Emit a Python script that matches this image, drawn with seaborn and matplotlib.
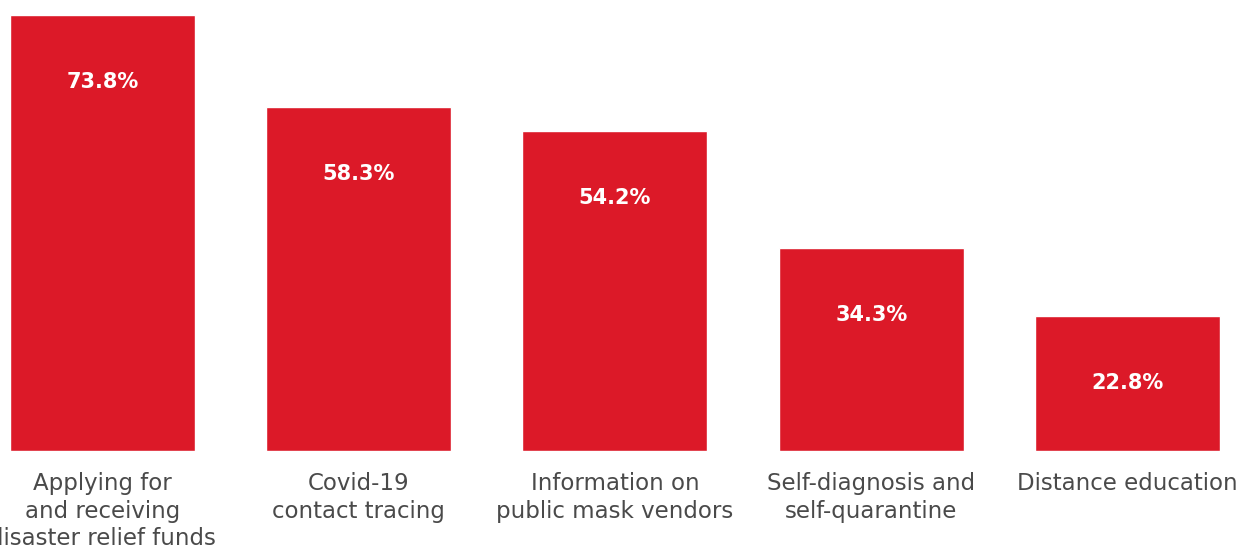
import numpy as np
import pandas as pd
import matplotlib
matplotlib.use("Agg")
import matplotlib.pyplot as plt
import seaborn as sns

# Data
categories = [
    "Applying for\nand receiving\ndisaster relief funds",
    "Covid-19\ncontact tracing",
    "Information on\npublic mask vendors",
    "Self-diagnosis and\nself-quarantine",
    "Distance education",
]
values = [73.8, 58.3, 54.2, 34.3, 22.8]

bar_color = "#DC1928"
text_color = "#4A4A4A"

sns.set_theme(style="white")
plt.rcParams['font.family'] = ['DejaVu Sans']

df = pd.DataFrame({"category": categories, "value": values})

fig = plt.figure(figsize=(12.51, 5.52), dpi=100)
# axes placed so that the baseline and tallest bar match the reference
ax = fig.add_axes([0, 101 / 552, 1, 436 / 552])

sns.barplot(data=df, x="category", y="value", color=bar_color,
            width=0.722, saturation=1, ax=ax)

ax.set_xlim(-0.4, 4.482)
ax.set_ylim(0, 73.8)
ax.set_xlabel("")
ax.set_ylabel("")
ax.set_yticks([])
ax.tick_params(axis="x", length=0, pad=15, labelsize=16.5, labelcolor=text_color)
for lbl in ax.get_xticklabels():
    lbl.set_linespacing(1.26)
sns.despine(ax=ax, left=True, bottom=True)

# value labels inside the bars
for i, v in enumerate(values):
    ax.annotate(f"{v}%", xy=(i, v), xytext=(0, -67 / 100 * 72),
                textcoords="offset points", ha="center", va="center",
                color="white", fontsize=15, fontweight="bold")

fig.savefig("out.png", dpi=100)
